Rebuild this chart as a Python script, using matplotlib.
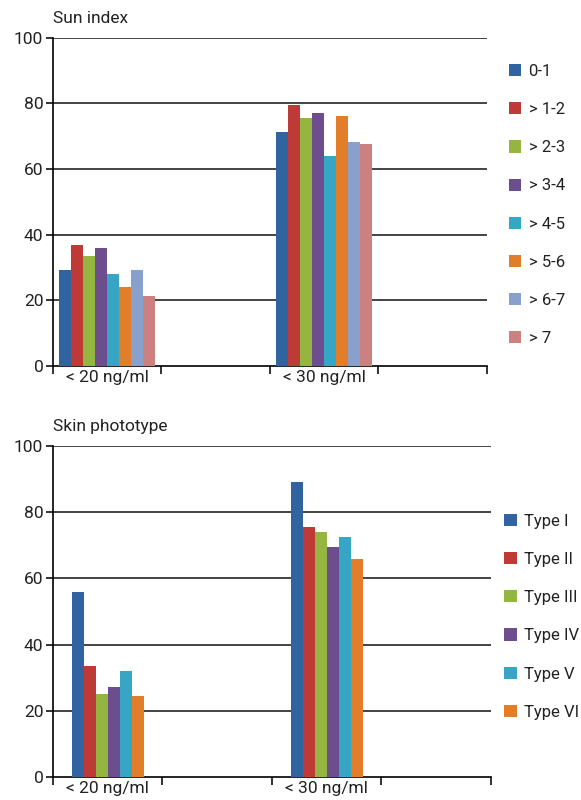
import matplotlib.pyplot as plt
import numpy as np

plt.rcParams['font.family'] = ['Roboto', 'DejaVu Sans']

# ---- data ----
groups = ["< 20 ng/ml", "< 30 ng/ml"]

sun_labels = ["0-1", "> 1-2", "> 2-3", "> 3-4", "> 4-5", "> 5-6", "> 6-7", "> 7"]
sun_lt20 = [29.2, 36.9, 33.5, 35.9, 28.0, 24.1, 29.2, 21.3]
sun_lt30 = [71.3, 79.6, 75.5, 77.1, 64.0, 76.1, 68.2, 67.6]

skin_labels = ["Type I", "Type II", "Type III", "Type IV", "Type V", "Type VI"]
skin_lt20 = [55.9, 33.6, 25.2, 27.3, 32.1, 24.5]
skin_lt30 = [89.1, 75.6, 74.0, 69.5, 72.5, 65.9]

colors = ["#3063a0", "#be3a37", "#94b640", "#6c4d8e", "#36a6c4", "#e27d2a", "#87a0cc", "#cb817f"]

text_col = "#222222"
fs = 12.5
leg_fs = 12


def draw(ax, title, labels, v20, v30, leg_x, leg_y):
    n = len(labels)
    w = 0.11
    centers = [0.5, 2.5]
    for i in range(n):
        xs = np.array(centers) + (i - (n - 1) / 2) * w
        ax.bar(xs, [v20[i], v30[i]], width=w, color=colors[i], label=labels[i],
               zorder=3, linewidth=0)
    ax.set_xlim(0, 4)
    ax.set_ylim(0, 100)
    ax.set_yticks([0, 20, 40, 60, 80, 100])
    for y in [20, 40, 60, 80, 100]:
        ax.axhline(y, color="#111111", lw=1.1, zorder=1)
    ax.set_xticks([0, 1, 2, 3, 4])
    ax.set_xticklabels([])
    ax.set_xticks(centers, minor=True)
    ax.set_xticklabels(groups, minor=True, fontsize=fs, color=text_col)
    ax.tick_params(axis="x", which="major", direction="out", length=6, width=1.2, color="#111111")
    ax.tick_params(axis="x", which="minor", length=0, pad=3)
    ax.tick_params(axis="y", direction="out", length=5, width=1.2, color="#111111",
                   labelsize=fs, labelcolor=text_col, pad=2)
    for s in ["top", "right"]:
        ax.spines[s].set_visible(False)
    ax.spines["left"].set_linewidth(1.2)
    ax.spines["bottom"].set_linewidth(1.2)
    ax.text(0.0, 1.035, title, transform=ax.transAxes, fontsize=fs, color=text_col,
            ha="left", va="bottom")
    ax.legend(loc="upper left", bbox_to_anchor=(leg_x, leg_y), frameon=False,
              fontsize=leg_fs, handlelength=0.75, handleheight=0.75, handletextpad=0.45,
              labelspacing=1.39, borderaxespad=0, borderpad=0, labelcolor=text_col)


fig = plt.figure(figsize=(5.81, 8.0), dpi=100)
ax1 = fig.add_axes([0.0912, 0.5425, 0.838 - 0.0912, 0.9529 - 0.5425])
ax2 = fig.add_axes([0.0912, 0.02875, 0.845 - 0.0912, 0.4425 - 0.02875])

draw(ax1, "Sun index", sun_labels, sun_lt20, sun_lt30, 1.05, 0.92)
draw(ax2, "Skin phototype", skin_labels, skin_lt20, skin_lt30, 1.03, 0.795)

fig.savefig("out.png", dpi=100)
